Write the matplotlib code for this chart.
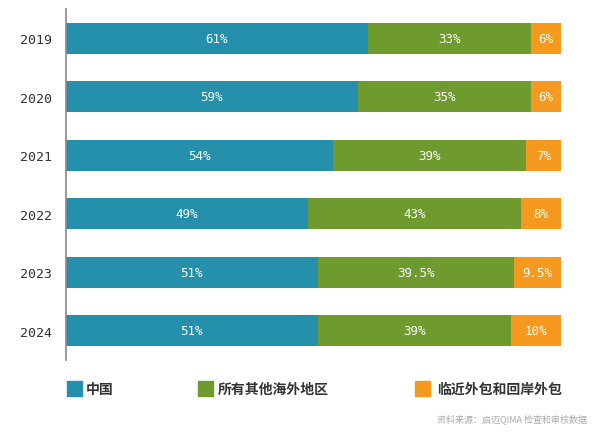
import matplotlib
matplotlib.use("Agg")
import matplotlib.pyplot as plt
from matplotlib.patches import Rectangle

years = ["2019", "2020", "2021", "2022", "2023", "2024"]
china = [61, 59, 54, 49, 51, 51]
other = [33, 35, 39, 43, 39.5, 39]
near = [6, 6, 7, 8, 9.5, 10]
series_names = ["中国", "所有其他海外地区", "临近外包和回岸外包"]
colors = ["#2590AB", "#6E9A2E", "#F59A1E"]
source = "资料来源：启迈QIMA 检查和审核数据"

CJK = ["Noto Sans CJK SC", "DejaVu Sans"]
MONO = "DejaVu Sans Mono"

fig = plt.figure(figsize=(5.99, 4.39), dpi=100)
ax = fig.add_axes([65.5/599, 1-361/439, 495.5/599, 351/439])

y = list(range(len(years)))
lefts = [0]*len(years)
for vals, c in zip([china, other, near], colors):
    ax.barh(y, vals, left=lefts, height=0.53, color=c, edgecolor="none")
    for yi, v, l in zip(y, vals, lefts):
        ax.text(l + v/2, yi, f"{v:g}%", ha="center", va="center", color="white",
                fontsize=9, family=MONO)
    lefts = [a+b for a, b in zip(lefts, vals)]

ax.set_xlim(0, 100)
ax.set_ylim(5.5, -0.5)
ax.set_yticks(y)
ax.set_yticklabels(years, family=MONO, fontsize=9.5, color="#333333")
ax.tick_params(axis="y", length=0, pad=10)
ax.set_xticks([])
for s in ["top", "right", "bottom"]:
    ax.spines[s].set_visible(False)
ax.spines["left"].set_color("#888888")
ax.spines["left"].set_linewidth(1.2)

# legend
leg_sq = [67, 198, 415]
leg_tx = [86, 218, 437]
for sx, tx, name, c in zip(leg_sq, leg_tx, series_names, colors):
    fig.patches.append(Rectangle((sx/599, 1-397/439), 15/599, 15/439,
                                 transform=fig.transFigure, color=c))
    fig.text(tx/599, 1-390/439, name, family=CJK, fontsize=10, fontweight="bold",
             color="#333333", va="center", ha="left")

fig.text(587/599, 1-419/439, source, family=CJK, fontsize=6.5,
         color="#aaaaaa", ha="right", va="center")

fig.savefig("out.png", dpi=100)
